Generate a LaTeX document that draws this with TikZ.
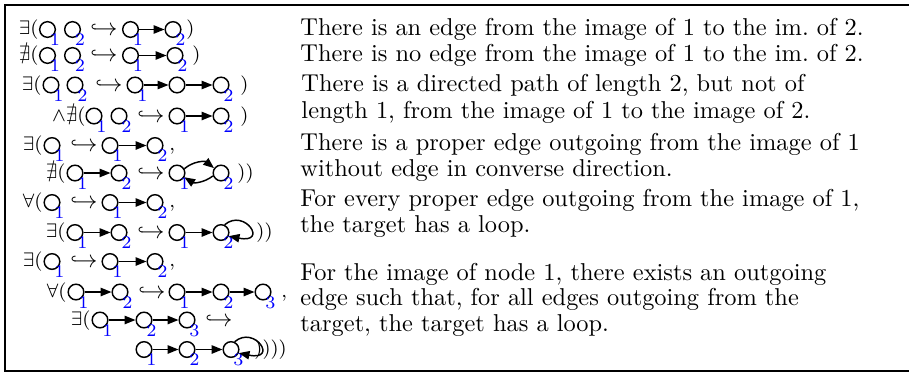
\documentclass[tikz,border=0pt]{standalone}
\usepackage{amssymb}
\usetikzlibrary{arrows.meta}
\tikzset{
 gn/.style={circle,draw,line width=0.6pt,inner sep=0pt,minimum size=6.4pt},
 lbl/.style={text=blue,font=\fontsize{7.3}{8}\selectfont,inner sep=0pt},
 ar/.style={-{Triangle[length=4.4pt,width=3.4pt]},line width=0.6pt},
 mtw/.style={inner sep=0pt,anchor=base west,font=\fontsize{8.5}{10}\selectfont},
 mte/.style={inner sep=0pt,anchor=base east,font=\fontsize{8.5}{10}\selectfont},
 hk/.style={inner sep=0pt,anchor=base west,font=\fontsize{10}{12}\selectfont},
 rt/.style={inner sep=0pt,anchor=base west,font=\fontsize{10}{12}\selectfont},
 frame/.style={line width=1.2pt}
}
\newcommand\gnd[4]{\node[gn] (#1) at (#2,#3) {};\node[lbl] (#1l) at ([shift={(7.5,10.5)}]#1.center) {#4};}
\begin{document}
\begin{tikzpicture}[x=0.41pt,y=-0.41pt]
\useasboundingbox (0,0) rectangle (909,373);
\draw[frame] (915,5) -- (5,5) -- (5,371) -- (915,371);
% row 1
\node[mte] (r1q) at (39,34.5) {$\exists($};
\gnd{r1a}{47.5}{29.5}{1}\gnd{r1b}{72.5}{29.5}{2}
\node[hk] (r1h) at (90,35.5) {$\hookrightarrow$};
\gnd{r1c}{130.5}{29.5}{1}\gnd{r1d}{173}{29.5}{2}
\draw[ar] (r1c) -- (r1d);
\node[mtw] (r1p) at (186,34.5) {$)$};
% row 2
\node[mte] (r2q) at (39,60.5) {$\nexists($};
\gnd{r2a}{47.5}{55.5}{1}\gnd{r2b}{72.5}{55.5}{2}
\node[hk] (r2h) at (90,61.5) {$\hookrightarrow$};
\gnd{r2c}{130.5}{55.5}{1}\gnd{r2d}{175}{55.5}{2}
\draw[ar] (r2c) -- (r2d);
\node[mtw] (r2p) at (192,60.5) {$)$};
% row 3
\node[mte] (r3q) at (42,90) {$\exists($};
\gnd{r3a}{51}{85}{1}\gnd{r3b}{75}{85}{2}
\node[hk] (r3h) at (95,91) {$\hookrightarrow$};
\gnd{r3c}{135}{85}{1}
\node[gn] (r3d) at (177,85) {};
\gnd{r3e}{221}{85}{2}
\draw[ar] (r3c) -- (r3d);
\draw[ar] (r3d) -- (r3e);
\node[mtw] (r3p) at (240,90) {$)$};
% row 4
\node[mte] (r4q) at (86,121) {$\wedge\nexists($};
\gnd{r4a}{94}{116}{1}\gnd{r4b}{119}{116}{2}
\node[hk] (r4h) at (137,122) {$\hookrightarrow$};
\gnd{r4c}{177}{116}{1}\gnd{r4d}{221}{116}{2}
\draw[ar] (r4c) -- (r4d);
\node[mtw] (r4p) at (240,121) {$)$};
% row 5
\node[mte] (r5q) at (43,150.5) {$\exists($};
\gnd{r5a}{52}{145.5}{1}
\node[hk] (r5h) at (70,151.5) {$\hookrightarrow$};
\gnd{r5c}{110}{145.5}{1}\gnd{r5d}{155}{145.5}{2}
\draw[ar] (r5c) -- (r5d);
\node[mtw] (r5p) at (169,150.5) {$,$};
% row 6
\node[mte] (r6q) at (66,178) {$\nexists($};
\gnd{r6a}{75}{173}{1}\gnd{r6b}{119}{173}{2}
\draw[ar] (r6a) -- (r6b);
\node[hk] (r6h) at (137,179) {$\hookrightarrow$};
\gnd{r6c}{177}{173}{1}\gnd{r6d}{221}{173}{2}
\draw[ar] (r6c.30) to[bend left=40] (r6d.145);
\draw[ar] (r6d.-160) to[bend left=35] (r6c.-30);
\node[mtw] (r6p) at (237,178) {$))$};
% row 7
\node[mte] (r7q) at (43,207.5) {$\forall($};
\gnd{r7a}{52}{202.5}{1}
\node[hk] (r7h) at (70,208.5) {$\hookrightarrow$};
\gnd{r7c}{110}{202.5}{1}\gnd{r7d}{155}{202.5}{2}
\draw[ar] (r7c) -- (r7d);
\node[mtw] (r7p) at (169,207.5) {$,$};
% row 8
\node[mte] (r8q) at (66,237.5) {$\exists($};
\gnd{r8a}{75}{232.5}{1}\gnd{r8b}{119}{232.5}{2}
\draw[ar] (r8a) -- (r8b);
\node[hk] (r8h) at (137,238.5) {$\hookrightarrow$};
\gnd{r8c}{177}{232.5}{1}\gnd{r8d}{221}{232.5}{2}
\draw[ar] (r8c) -- (r8d);
\draw[ar] (r8d.65) .. controls +(20,-17) and +(40,8) .. (r8d.-25);
\node[mtw] (r8p) at (256,237.5) {$))$};
% row 9
\node[mte] (r9q) at (43,266.5) {$\exists($};
\gnd{r9a}{52}{261.5}{1}
\node[hk] (r9h) at (70,267.5) {$\hookrightarrow$};
\gnd{r9c}{110}{261.5}{1}\gnd{r9d}{155}{261.5}{2}
\draw[ar] (r9c) -- (r9d);
\node[mtw] (r9p) at (169,266.5) {$,$};
% row 10
\node[mte] (r10q) at (67,297) {$\forall($};
\gnd{r10a}{76}{292}{1}\gnd{r10b}{120}{292}{2}
\draw[ar] (r10a) -- (r10b);
\node[hk] (r10h) at (138,298) {$\hookrightarrow$};
\gnd{r10c}{177}{292}{1}\gnd{r10d}{221}{292}{2}\gnd{r10e}{263}{292}{3}
\draw[ar] (r10c) -- (r10d);
\draw[ar] (r10d) -- (r10e);
\node[mtw] (r10p) at (281,297) {$,$};
% row 11
\node[mte] (r11q) at (91,325) {$\exists($};
\gnd{r11a}{100}{320}{1}\gnd{r11b}{144}{320}{2}\gnd{r11c}{187}{320}{3}
\draw[ar] (r11a) -- (r11b);
\draw[ar] (r11b) -- (r11c);
\node[hk] (r11h) at (205,326) {$\hookrightarrow$};
% row 12
\gnd{r12a}{144}{349.5}{1}\gnd{r12b}{187}{349.5}{2}\gnd{r12c}{231}{349.5}{3}
\draw[ar] (r12a) -- (r12b);
\draw[ar] (r12b) -- (r12c);
\draw[ar] (r12c.65) .. controls +(20,-17) and +(40,8) .. (r12c.-25);
\node[mtw] (r12p) at (254,354.5) {$))))$};
% right column
\node[rt] (t1) at (300,35.5) {There is an edge from the image of 1 to the im.\ of 2.};
\node[rt] (t2) at (300,61.5) {There is no edge from the image of 1 to the im.\ of 2.};
\node[rt] (t3) at (301,91) {There is a directed path of length 2, but not of};
\node[rt] (t4) at (301,118) {length 1, from the image of 1 to the image of 2.};
\node[rt] (t5) at (300,150) {There is a proper edge outgoing from the image of 1};
\node[rt] (t6) at (300,176) {without edge in converse direction.};
\node[rt] (t7) at (300,206) {For every proper edge outgoing from the image of 1,};
\node[rt] (t8) at (300,232) {the target has a loop.};
\node[rt] (t9) at (300,280) {For the image of node 1, there exists an outgoing};
\node[rt] (t10) at (300,305.5) {edge such that, for all edges outgoing from the};
\node[rt] (t11) at (300,331) {target, the target has a loop.};
\end{tikzpicture}
\end{document}
